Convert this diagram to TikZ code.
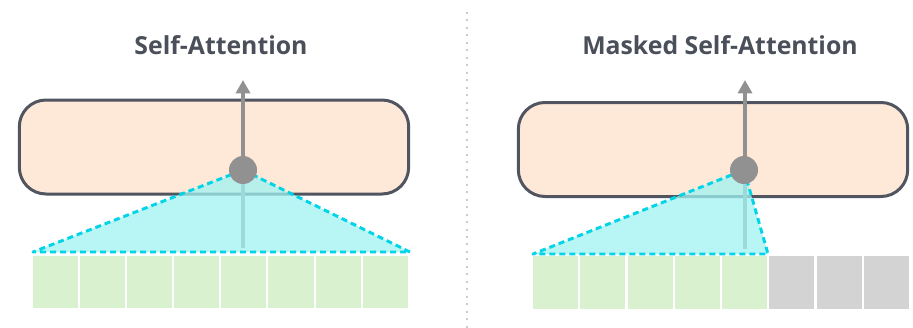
\documentclass[tikz,border=0pt]{standalone}
\usepackage{fontspec}
\setmainfont{Open Sans}
\usetikzlibrary{arrows.meta}
\definecolor{inkgray}{HTML}{4A4F5A}
\definecolor{boxfill}{HTML}{FEE9D9}
\definecolor{boxline}{HTML}{50555F}
\definecolor{tokgreen}{HTML}{D9F1CF}
\definecolor{tokmask}{HTML}{D3D3D3}
\definecolor{focusfill}{RGB}{160,242,242}
\definecolor{focusline}{HTML}{00D4E6}
\definecolor{dotgray}{HTML}{919191}
\definecolor{sepgray}{HTML}{CCCCCC}
\tikzset{
  title/.style={font=\bfseries\fontsize{18.6}{22}\selectfont, text=inkgray, inner sep=0pt},
  layerbox/.style={draw=boxline, fill=boxfill, line width=2.25pt, rounded corners=20pt,
    minimum width=292pt, minimum height=70.5pt, inner sep=0pt},
  token/.style={draw=white, line width=1.5pt, minimum width=35.4pt, minimum height=41pt, inner sep=0pt},
  visible/.style={token, fill=tokgreen},
  masked/.style={token, fill=tokmask},
  hub/.style={circle, fill=dotgray, minimum size=21pt, inner sep=0pt},
  flow/.style={draw=dotgray, line width=3pt, -{Triangle[width=10.5pt,length=10pt]}},
  focus/.style={fill=focusfill, fill opacity=0.75},
  focusedge/.style={draw=focusline, line width=2.2pt, line join=round, dash pattern=on 4.5pt off 3pt},
  divider/.style={draw=sepgray, line width=1.5pt, dash pattern=on 1.5pt off 4.1pt},
}
\begin{document}
\begin{tikzpicture}[x=0.75pt,y=-0.75pt]
\useasboundingbox (0,0) rectangle (913,328);

% separator between the two panels
\coordinate (sepTop) at (467,12);
\coordinate (sepBot) at (467,328);
\draw[divider] (sepTop) -- (sepBot);

% ---------- left panel: self-attention ----------
\node[title] (titleL) at (221,45) {Self-Attention};
\node[layerbox] (boxL) at (214,147) {};
\foreach \i in {0,...,7}
  \node[visible] (tokL\i) at ({32+47.1*(\i+0.5)},282) {};
\coordinate (baseL) at (243,248);
\coordinate (topL) at (243,80);
\draw[flow] (baseL) -- (topL);
\coordinate (apexL) at (243,170);
\coordinate (leftL) at (33,252);
\coordinate (rightL) at (410,252);
\fill[focus] (apexL) -- (rightL) -- (leftL) -- cycle;
\draw[focusedge] (apexL) -- (rightL) -- (leftL) -- cycle;
\node[hub] (hubL) at (apexL) {};

% ---------- right panel: masked self-attention ----------
\node[title] (titleR) at (720,45) {Masked Self-Attention};
\node[layerbox] (boxR) at (713,149.5) {};
\foreach \i in {0,...,4}
  \node[visible] (tokR\i) at ({532+47.25*(\i+0.5)},282.5) {};
\foreach \i in {5,...,7}
  \node[masked] (tokR\i) at ({532+47.25*(\i+0.5)},282.5) {};
\coordinate (baseR) at (745,249);
\coordinate (topR) at (745,80);
\draw[flow] (baseR) -- (topR);
\coordinate (apexR) at (744,170);
\coordinate (leftR) at (533,254);
\coordinate (rightR) at (768,254);
\fill[focus] (apexR) -- (rightR) -- (leftR) -- cycle;
\draw[focusedge] (apexR) -- (rightR) -- (leftR) -- cycle;
\node[hub] (hubR) at (apexR) {};
\end{tikzpicture}
\end{document}
